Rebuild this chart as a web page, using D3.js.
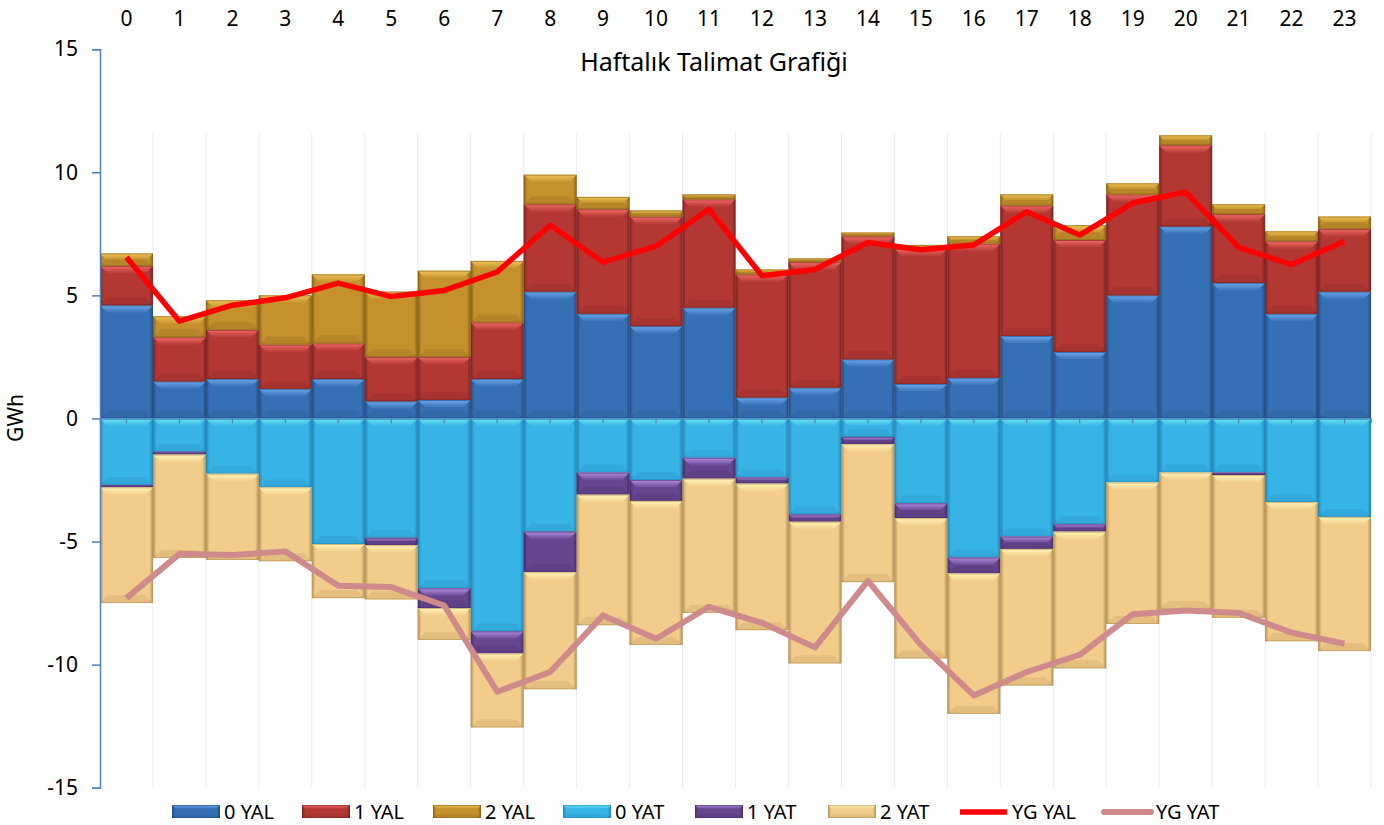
<!DOCTYPE html>
<html>
<head>
<meta charset="utf-8">
<script src="https://cdn.jsdelivr.net/npm/d3@7"></script>
<style>
body { margin: 0; background: #fff; }
text { font-family: "Noto Sans", sans-serif; fill: #000; }
</style>
</head>
<body>
<script>
// saatler (kategoriler)
const hours = ['0','1','2','3','4','5','6','7','8','9','10','11','12','13','14','15','16','17','18','19','20','21','22','23'];

// yük alma (pozitif)
const yal0 = [4.6,1.5,1.6,1.2,1.6,0.7,0.75,1.6,5.15,4.25,3.75,4.5,0.85,1.25,2.4,1.4,1.65,3.35,2.7,5.0,7.8,5.5,4.25,5.15];
const yal1 = [1.6,1.8,2.0,1.8,1.45,1.8,1.75,2.3,3.55,4.25,4.45,4.4,5.0,5.1,5.0,5.5,5.45,5.3,4.55,4.1,3.3,2.8,2.95,2.55];
const yal2 = [0.5,0.85,1.2,2.0,2.8,2.65,3.5,2.5,1.2,0.5,0.25,0.2,0.2,0.15,0.15,0.15,0.3,0.45,0.6,0.45,0.4,0.4,0.4,0.5];
// yük atma (negatif)
const yat0 = [-2.7,-1.35,-2.25,-2.8,-5.1,-4.85,-6.9,-8.65,-4.6,-2.2,-2.5,-1.6,-2.4,-3.9,-0.75,-3.45,-5.65,-4.8,-4.3,-2.6,-2.2,-2.2,-3.4,-4.0];
const yat1 = [-0.1,-0.12,0,0,0,-0.3,-0.8,-0.9,-1.65,-0.9,-0.85,-0.85,-0.25,-0.3,-0.3,-0.6,-0.65,-0.5,-0.3,0,0,-0.1,0,0];
const yat2 = [-4.7,-4.2,-3.5,-3.0,-2.2,-2.2,-1.3,-3.0,-4.75,-5.3,-5.85,-5.45,-5.95,-5.75,-5.6,-5.7,-5.7,-5.55,-5.55,-5.75,-5.55,-5.8,-5.65,-5.45];
// YG çizgileri
const ygYal = [6.55,3.95,4.6,4.9,5.5,4.95,5.2,5.95,7.85,6.35,7.0,8.5,5.8,6.05,7.15,6.85,7.05,8.4,7.45,8.75,9.2,6.95,6.25,7.2];
const ygYat = [-7.3,-5.5,-5.55,-5.4,-6.8,-6.85,-7.6,-11.1,-10.3,-8.0,-8.95,-7.65,-8.3,-9.3,-6.6,-9.2,-11.25,-10.3,-9.6,-7.95,-7.8,-7.9,-8.7,-9.15];

const yTicks = [-15,-10,-5,0,5,10,15];

const barKeys = ['0 YAL','1 YAL','2 YAL','0 YAT','1 YAT','2 YAT'];
const barVals = [yal0, yal1, yal2, yat0, yat1, yat2];
const colors = {
  '0 YAL': {base:'#3670b4', light:'#69a8ea', dark:'#244f85'},
  '1 YAL': {base:'#b33833', light:'#f06a66', dark:'#7f2523'},
  '2 YAL': {base:'#c4912c', light:'#f0c55a', dark:'#8a6418'},
  '0 YAT': {base:'#38b3e6', light:'#66e6f0', dark:'#2288b8'},
  '1 YAT': {base:'#674690', light:'#b08ce0', dark:'#48306a'},
  '2 YAT': {base:'#f2cc8a', light:'#fff4b8', dark:'#b8955a'}
};

const table = hours.map((h, i) => {
  const row = {hour: h};
  barKeys.forEach((k, j) => row[k] = barVals[j][i]);
  return row;
});

const svg = d3.select('body').append('svg').attr('width', 1384).attr('height', 825);
const defs = svg.append('defs');

barKeys.forEach((k, j) => {
  const c = colors[k];
  const gs = defs.append('linearGradient').attr('id', 'side' + j);
  gs.append('stop').attr('offset', '0%').attr('stop-color', c.dark);
  gs.append('stop').attr('offset', '7%').attr('stop-color', c.base);
  gs.append('stop').attr('offset', '93%').attr('stop-color', c.base);
  gs.append('stop').attr('offset', '100%').attr('stop-color', c.dark);
  const gt = defs.append('linearGradient').attr('id', 'top' + j).attr('x1', 0).attr('x2', 0).attr('y1', 0).attr('y2', 1);
  gt.append('stop').attr('offset', '0%').attr('stop-color', c.light);
  gt.append('stop').attr('offset', '100%').attr('stop-color', c.base);
});

const x = d3.scaleBand().domain(hours).range([100, 1371]).padding(0);
const y = d3.scaleLinear().domain([-15, 15]).range([787.7, 49.2]);

// dikey kılavuz çizgileri
svg.append('g').selectAll('line').data(hours.slice(1).concat(['end']))
  .join('line')
  .attr('x1', d => d === 'end' ? 1371 : x(d)).attr('x2', d => d === 'end' ? 1371 : x(d))
  .attr('y1', 133).attr('y2', 787.7)
  .style('stroke', '#e6edf6').style('stroke-width', 1);

function bevel(g, x0, y0, w, h, j, maxB) {
  if (h < 0.5) return;
  const c = colors[barKeys[j]];
  const b = Math.min(maxB, h / 2);
  g.append('rect').attr('x', x0).attr('y', y0).attr('width', w).attr('height', h)
    .attr('fill', `url(#side${j})`);
  g.append('path')
    .attr('d', `M${x0},${y0}L${x0 + w},${y0}L${x0 + w - b},${y0 + b}L${x0 + b},${y0 + b}Z`)
    .attr('fill', `url(#top${j})`);
  g.append('path')
    .attr('d', `M${x0},${y0 + h}L${x0 + w},${y0 + h}L${x0 + w - b},${y0 + h - b}L${x0 + b},${y0 + h - b}Z`)
    .attr('fill', c.dark).attr('opacity', 0.25);
  g.append('rect').attr('x', x0 + 0.5).attr('y', y0 + 0.5).attr('width', w - 1).attr('height', Math.max(0, h - 1))
    .attr('fill', 'none').attr('stroke', c.dark).attr('stroke-opacity', 0.6).attr('stroke-width', 1);
}

const stack = d3.stack().keys(barKeys).offset(d3.stackOffsetDiverging);
const series = stack(table);
const barsG = svg.append('g');
series.forEach((s, j) => {
  s.forEach((d, i) => {
    const top = y(Math.max(d[0], d[1]));
    const bot = y(Math.min(d[0], d[1]));
    bevel(barsG, x(hours[i]), top, x.bandwidth(), bot - top, j, 8);
  });
});

// eksenler
const axisColor = '#4f81bd';
const yAxis = svg.append('g').attr('transform', 'translate(100,0)')
  .call(d3.axisLeft(y).tickValues(yTicks).tickSize(8).tickPadding(14).tickFormat(d => String(d)));
yAxis.select('.domain').attr('stroke', axisColor).attr('stroke-width', 1.5);
yAxis.selectAll('.tick line').attr('stroke', axisColor).attr('stroke-width', 1.5);
yAxis.selectAll('.tick text').style('font-size', '21px').style('font-family', '"Noto Sans", sans-serif').attr('fill', '#000');

const xAxis = svg.append('g').attr('transform', `translate(0,${y(0)})`)
  .call(d3.axisBottom(x).tickSize(5).tickFormat(''));
xAxis.select('.domain').attr('stroke', axisColor).attr('stroke-width', 1.5).attr('opacity', 0.8);
xAxis.selectAll('.tick line').attr('stroke', axisColor).attr('stroke-width', 1.2);

// üstteki saat etiketleri
svg.append('g').selectAll('text').data(hours).join('text')
  .attr('x', d => x(d) + x.bandwidth() / 2).attr('y', 26)
  .attr('text-anchor', 'middle').style('font-size', '21px').text(d => d);

// çizgiler
const line = d3.line().x((d, i) => x(hours[i]) + x.bandwidth() / 2).y(d => y(d));
svg.append('path').datum(ygYat).attr('d', line).attr('fill', 'none')
  .attr('stroke', '#cf8b8b').attr('stroke-width', 6).attr('stroke-linejoin', 'round');
svg.append('path').datum(ygYal).attr('d', line).attr('fill', 'none')
  .attr('stroke', '#ff0000').attr('stroke-width', 5.5).attr('stroke-linejoin', 'round');

// başlık
svg.append('text').attr('x', 714).attr('y', 71).attr('text-anchor', 'middle')
  .style('font-size', '25px').text('Haftalık Talimat Grafiği');

svg.append('text').attr('transform', 'translate(23,418) rotate(-90)').attr('text-anchor', 'middle')
  .style('font-size', '21px').text('GWh');

// lejant
const legendX = [172, 302, 433, 563, 695, 828];
const lg = svg.append('g');
barKeys.forEach((k, j) => {
  bevel(lg, legendX[j], 805, 48, 13, j, 4);
  lg.append('text').attr('x', legendX[j] + 52).attr('y', 819).style('font-size', '20px').text(k);
});
lg.append('line').attr('x1', 960).attr('x2', 1007).attr('y1', 812).attr('y2', 812)
  .attr('stroke', '#ff0000').attr('stroke-width', 5.5);
lg.append('text').attr('x', 1012).attr('y', 819).style('font-size', '20px').text('YG YAL');
lg.append('line').attr('x1', 1104).attr('x2', 1151).attr('y1', 812).attr('y2', 812)
  .attr('stroke', '#cf8b8b').attr('stroke-width', 6).attr('stroke-linecap', 'round');
lg.append('text').attr('x', 1156).attr('y', 819).style('font-size', '20px').text('YG YAT');
</script>
</body>
</html>
